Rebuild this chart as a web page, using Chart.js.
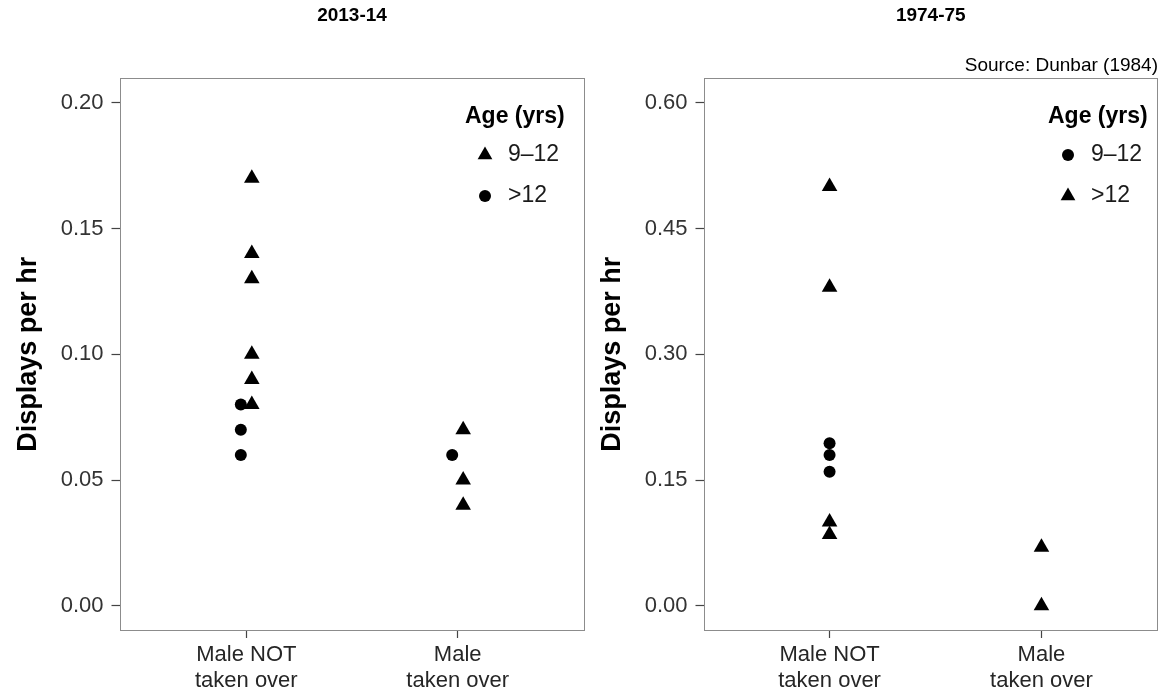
<!DOCTYPE html>
<html>
<head>
<meta charset="utf-8">
<title>Displays per hr</title>
<script src="https://cdn.jsdelivr.net/npm/chart.js@4/dist/chart.umd.min.js"></script>
<style>
  html, body { margin: 0; padding: 0; background: #fff; }
  #wrap { position: relative; width: 1168px; height: 690px; }
  #wrap canvas { position: absolute; left: 0; top: 0; }
</style>
</head>
<body>
<div id="wrap">
  <canvas id="panel2013" width="1168" height="690"></canvas>
  <canvas id="panel1974" width="1168" height="690"></canvas>
</div>
<script>
// Groups along the x axis and their (two-line) tick labels
const groups = ['Male NOT taken over', 'Male taken over'];
const groupTickLabels = [['Male NOT', 'taken over'], ['Male', 'taken over']];

// Y tick values for each panel
const yTicks2013 = [0.00, 0.05, 0.10, 0.15, 0.20];
const yTicks1974 = [0.00, 0.15, 0.30, 0.45, 0.60];

// 2013-14: displays per hr by age class
const age9to12_2013_notTaken = [0.17, 0.14, 0.13, 0.10, 0.09, 0.08];
const age9to12_2013_taken = [0.07, 0.05, 0.04];
const ageOver12_2013_notTaken = [0.08, 0.07, 0.06];
const ageOver12_2013_taken = [0.06];

// 1974-75 (Dunbar 1984): displays per hr by age class
const age9to12_1974_notTaken = [0.194, 0.18, 0.16];
const age9to12_1974_taken = [];
const ageOver12_1974_notTaken = [0.50, 0.38, 0.10, 0.085];
const ageOver12_1974_taken = [0.07, 0.00];

Chart.defaults.font.family = '"Liberation Sans", Arial, Helvetica, sans-serif';
Chart.defaults.color = '#2b2b2b';

// Turn per-group value lists into scatter points at group position (+ dodge)
function groupPoints(perGroup, dodge) {
  const out = [];
  perGroup.forEach((vals, gi) => {
    vals.forEach(v => out.push({ x: gi + 1 + dodge, y: v }));
  });
  return out;
}

// Grey frame around the plotting panel
const panelFrame = {
  id: 'panelFrame',
  beforeDatasetsDraw(chart) {
    const { ctx, chartArea: a } = chart;
    const l = Math.round(a.left) + 0.5, t = Math.round(a.top) + 0.5;
    const r = Math.round(a.right) - 0.5, b = Math.round(a.bottom) - 0.5;
    ctx.save();
    ctx.strokeStyle = '#8c8c8c';
    ctx.lineWidth = 1;
    ctx.strokeRect(l, t, r - l, b - t);
    ctx.restore();
  }
};

// Legend drawn inside the panel: bold title and one row per dataset
const ageLegend = {
  id: 'ageLegend',
  afterDraw(chart, args, opts) {
    const { ctx } = chart;
    ctx.save();
    ctx.fillStyle = '#000';
    ctx.textBaseline = 'middle';
    ctx.textAlign = 'left';
    ctx.font = 'bold 23px "Liberation Sans", Arial, sans-serif';
    ctx.fillText(opts.title, opts.left, opts.titleY);
    chart.data.datasets.forEach((ds, i) => {
      const y = opts.rowY[i];
      ctx.fillStyle = '#000';
      Chart.helpers.drawPoint(ctx, {
        pointStyle: ds.pointStyle,
        radius: ds.pointStyle === 'triangle' ? 8.5 : 6,
        rotation: 0,
        borderWidth: 0
      }, opts.left + 20, y);
      ctx.fillStyle = '#1a1a1a';
      ctx.font = '23px "Liberation Sans", Arial, sans-serif';
      ctx.fillText(ds.label, opts.left + 43, y);
    });
    ctx.restore();
  }
};

function makePanel(canvasId, cfg) {
  return new Chart(document.getElementById(canvasId), {
    type: 'scatter',
    data: {
      datasets: cfg.series.map(s => ({
        label: s.label,
        data: groupPoints(s.values, s.dodge),
        pointStyle: s.style,
        pointRadius: s.style === 'triangle' ? 9 : 6,
        pointHoverRadius: s.style === 'triangle' ? 9 : 6,
        backgroundColor: '#000',
        borderColor: '#000',
        borderWidth: 0,
        showLine: false
      }))
    },
    options: {
      responsive: false,
      animation: false,
      events: [],
      layout: { padding: cfg.padding },
      scales: {
        x: {
          type: 'linear',
          min: cfg.xMin,
          max: cfg.xMax,
          afterBuildTicks: s => { s.ticks = groups.map((g, i) => ({ value: i + 1 })); },
          afterFit: s => { s.height = 59; },
          ticks: {
            autoSkip: false,
            maxRotation: 0,
            padding: 4,
            color: '#262626',
            font: { size: 22, lineHeight: 1.18 },
            callback: v => groupTickLabels[Math.round(v) - 1]
          },
          grid: { drawOnChartArea: false, drawTicks: true, tickLength: 7, tickColor: '#444', tickWidth: 1.2 },
          border: { display: false }
        },
        y: {
          min: cfg.yMin,
          max: cfg.yMax,
          afterBuildTicks: s => { s.ticks = cfg.yTicks.map(v => ({ value: v })); },
          afterFit: s => { s.width = 119.5; },
          ticks: {
            padding: 8,
            color: '#333',
            font: { size: 22 },
            callback: v => v.toFixed(2)
          },
          grid: { drawOnChartArea: false, drawTicks: true, tickLength: 8, tickColor: '#444', tickWidth: 1.2 },
          border: { display: false },
          title: {
            display: true,
            text: 'Displays per hr',
            color: '#000',
            font: { size: 27, weight: 'bold' },
            padding: { top: 12, bottom: 0 }
          }
        }
      },
      plugins: {
        legend: { display: false },
        tooltip: { enabled: false },
        title: {
          display: true,
          text: cfg.title,
          fullSize: false,
          color: '#000',
          font: { size: 19, weight: 'bold' },
          padding: { top: 4.6, bottom: cfg.titleBottom }
        },
        subtitle: cfg.source ? {
          display: true,
          text: cfg.source,
          align: 'end',
          fullSize: false,
          color: '#000',
          font: { size: 19 },
          padding: { top: 0, bottom: 0 }
        } : { display: false },
        ageLegend: cfg.legend
      }
    },
    plugins: [panelFrame, ageLegend]
  });
}

makePanel('panel2013', {
  title: '2013-14',
  titleBottom: 50.1,
  padding: { left: 0, right: 583.5, top: 0, bottom: 0 },
  xMin: 0.4, xMax: 2.6,
  yMin: -0.01, yMax: 0.21,
  yTicks: yTicks2013,
  series: [
    { label: '9–12', style: 'triangle', dodge: 0.026, values: [age9to12_2013_notTaken, age9to12_2013_taken] },
    { label: '>12', style: 'circle', dodge: -0.026, values: [ageOver12_2013_notTaken, ageOver12_2013_taken] }
  ],
  legend: { title: 'Age (yrs)', left: 465, titleY: 117, rowY: [155, 196] }
});

makePanel('panel1974', {
  title: '1974-75',
  titleBottom: 27.3,
  source: 'Source: Dunbar (1984)',
  padding: { left: 584, right: 10, top: 0, bottom: 0 },
  xMin: 0.405, xMax: 2.55,
  yMin: -0.03, yMax: 0.63,
  yTicks: yTicks1974,
  series: [
    { label: '9–12', style: 'circle', dodge: 0, values: [age9to12_1974_notTaken, age9to12_1974_taken] },
    { label: '>12', style: 'triangle', dodge: 0, values: [ageOver12_1974_notTaken, ageOver12_1974_taken] }
  ],
  legend: { title: 'Age (yrs)', left: 1048, titleY: 117, rowY: [155, 196] }
});
</script>
</body>
</html>
